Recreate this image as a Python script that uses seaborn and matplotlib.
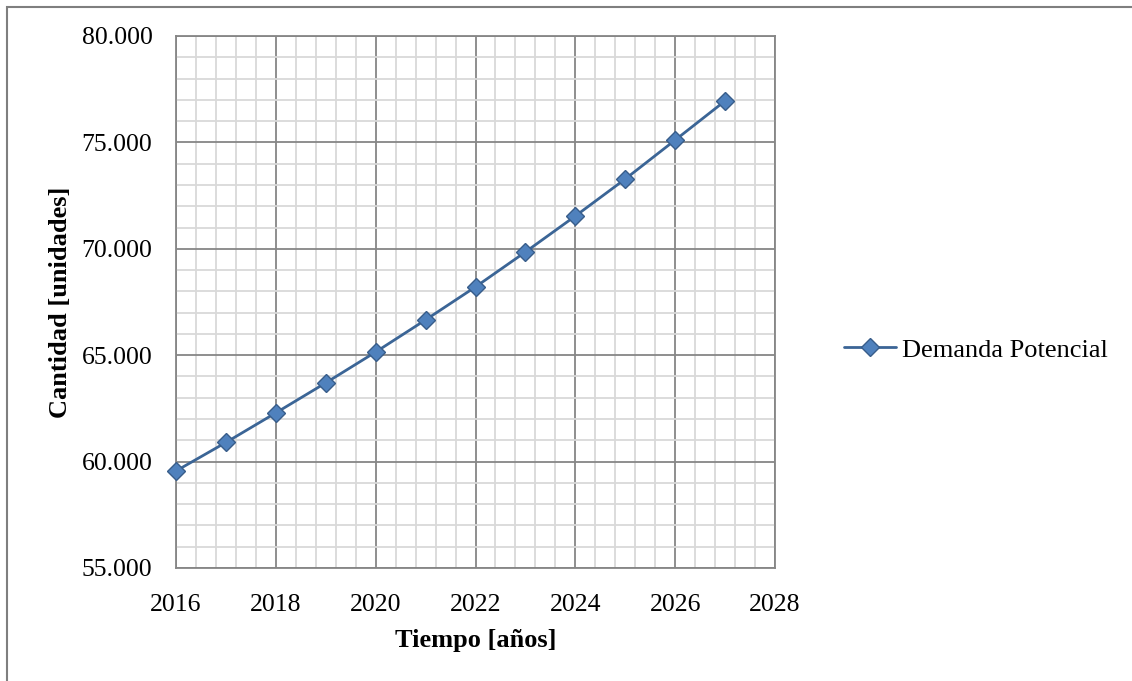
import matplotlib
matplotlib.use("Agg")
import matplotlib.pyplot as plt
import matplotlib.ticker as mticker
from matplotlib.patches import Rectangle
import seaborn as sns
import pandas as pd

years = [2016, 2017, 2018, 2019, 2020, 2021, 2022, 2023, 2024, 2025, 2026, 2027]
demanda = [59560, 60900, 62290, 63700, 65150, 66660, 68210, 69850, 71540, 73280, 75110, 76950]
series_name = "Demanda Potencial"
x_label = "Tiempo [años]"
y_label = "Cantidad [unidades]"

sns.set_theme(style="white")
plt.rcParams["font.family"] = ["Liberation Serif", "DejaVu Serif"]
plt.rcParams["text.color"] = "black"
plt.rcParams["axes.labelcolor"] = "black"

df = pd.DataFrame({"Año": years, "Cantidad": demanda, "Serie": series_name})

fig = plt.figure(figsize=(11.32, 6.81), dpi=100)
ax = fig.add_axes([176 / 1132, 1 - 568 / 681, (775 - 176) / 1132, (568 - 36) / 681])

# outer frame of the chart area
fig.patches.append(Rectangle((7 / 1132, -0.1), 1.2, (681 - 7) / 681 + 0.1,
                             transform=fig.transFigure, fill=False,
                             edgecolor="#7f7f7f", linewidth=1.5, zorder=0))

sns.lineplot(data=df, x="Año", y="Cantidad", hue="Serie", ax=ax,
             palette=["#3b6596"], marker="D", markersize=9.5,
             markerfacecolor="#4f81bd", markeredgecolor="#385d8a",
             markeredgewidth=1.0, linewidth=2.0, zorder=5, clip_on=False)

ax.set_xlim(2016, 2028)
ax.set_ylim(55000, 80000)
ax.xaxis.set_major_locator(mticker.MultipleLocator(2))
ax.xaxis.set_minor_locator(mticker.MultipleLocator(0.4))
ax.yaxis.set_major_locator(mticker.MultipleLocator(5000))
ax.yaxis.set_minor_locator(mticker.MultipleLocator(1000))
ax.yaxis.set_major_formatter(mticker.FuncFormatter(lambda v, p: f"{int(v):,}".replace(",", ".")))

ax.grid(which="minor", color="#d9d9d9", linewidth=1.3, zorder=0)
ax.grid(which="major", color="#868686", linewidth=1.3, zorder=1)
ax.set_axisbelow(True)
for s in ax.spines.values():
    s.set_color("#868686")
    s.set_linewidth(1.3)

ax.tick_params(axis="both", which="both", length=0, labelsize=18.5, colors="black")
ax.tick_params(axis="x", pad=19)
ax.tick_params(axis="y", pad=17)
ax.set_xlabel(x_label, fontsize=19, fontweight="bold", labelpad=9, color="black")
ax.set_ylabel(y_label, fontsize=19, fontweight="bold", labelpad=7, color="black")

leg = ax.legend(loc="center left", bbox_to_anchor=(1.097, 0.41), frameon=False,
                fontsize=19, handlelength=2.0, handletextpad=0.2, borderaxespad=0)
for t in leg.get_texts():
    t.set_color("black")

fig.savefig("out.png", dpi=100)
